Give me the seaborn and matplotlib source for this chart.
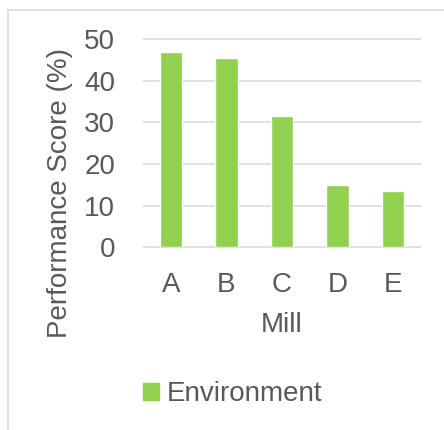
import matplotlib
matplotlib.use("Agg")
import matplotlib.pyplot as plt
import matplotlib.patches as mpatches
import seaborn as sns
import pandas as pd

# === Dados ===
mills = ["A", "B", "C", "D", "E"]
scores = [46.9, 45.5, 31.6, 15.0, 13.5]
series_name = "Environment"

df = pd.DataFrame({"Mill": mills, "Score": scores, "Metric": series_name})

# === Estilo ===
sns.set_theme(style="white")
plt.rcParams["font.family"] = ["Liberation Sans", "DejaVu Sans"]
grey_text = "#595959"
grid_col = "#D9D9D9"
green = "#92D050"

fig = plt.figure(figsize=(4.44, 4.30), dpi=100)
ax = fig.add_axes([143 / 444, 1 - 247.3 / 430, 278 / 444, 208.3 / 430])

sns.barplot(data=df, x="Mill", y="Score", hue="Metric", palette=[green],
            width=0.4, saturation=1, ax=ax, legend=False)

ax.set_ylim(0, 50)
ax.set_yticks(range(0, 51, 10))
ax.yaxis.grid(True, color=grid_col, linewidth=1.1)
for gl in ax.get_ygridlines():
    gl.set_clip_on(False)
ax.set_axisbelow(True)
for s in ax.spines.values():
    s.set_visible(False)

ax.tick_params(axis="both", length=0, labelsize=20, colors=grey_text)
ax.tick_params(axis="y", pad=20)
ax.tick_params(axis="x", pad=18)

ax.set_xlabel("Mill", fontsize=20, color=grey_text, labelpad=10)
ax.set_ylabel("")
fig.text(60 / 444, 1 - 193 / 430, "Performance Score (%)", rotation=90,
         fontsize=20, color=grey_text, ha="center", va="center")

# === Legenda ===
handle = mpatches.Patch(color=green, label=series_name)
fig.legend(handles=[handle], loc="center", bbox_to_anchor=(233 / 444, 1 - 394 / 430),
           frameon=False, fontsize=20, labelcolor=grey_text,
           handlelength=0.55, handleheight=0.55, handletextpad=0.3)

# === Borda do gráfico ===
fig.add_artist(mpatches.Rectangle((7.5 / 444, -0.1), 1.0, 1 - 9.5 / 430 + 0.1,
                                  transform=fig.transFigure, fill=False,
                                  edgecolor=grid_col, linewidth=1.2))

fig.savefig("out.png", dpi=100)
